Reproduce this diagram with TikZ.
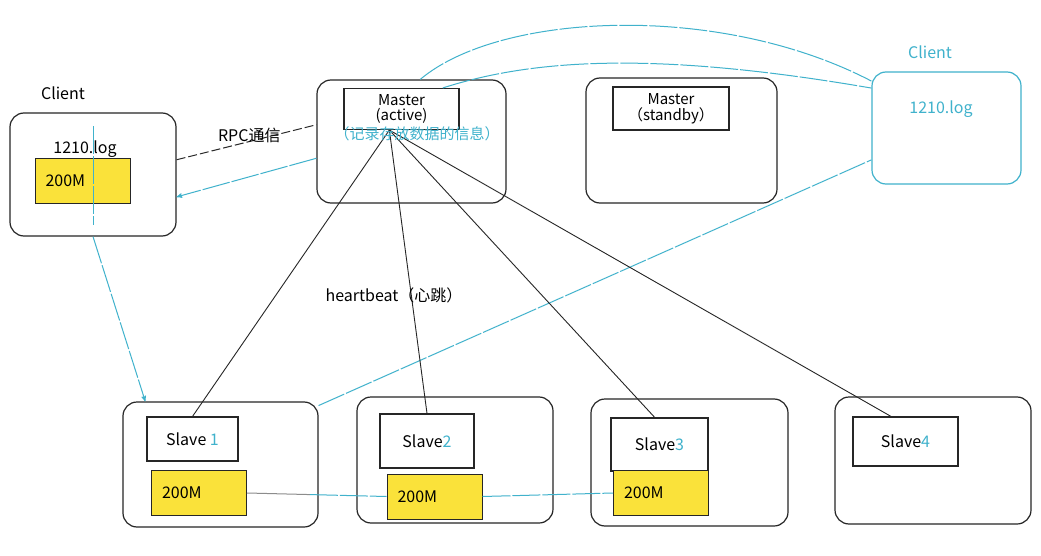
\documentclass[tikz,border=0pt]{standalone}
\usepackage{fontspec}
\setmainfont{Noto Sans CJK SC}
\usetikzlibrary{arrows,calc}
\definecolor{penblue}{RGB}{64,178,204}
\definecolor{memyellow}{RGB}{250,226,58}

\begin{document}
\begin{tikzpicture}[x=1pt,y=-1pt,>=stealth',
  font=\fontsize{16}{17}\selectfont,
  host/.style={draw=black!85,line width=1.2pt,rounded corners=14pt,inner sep=0pt},
  proc/.style={draw=black!85,line width=1.1pt,inner sep=0pt,align=center},
  mem/.style={draw=black!85,fill=memyellow,line width=1pt,inner sep=0pt,
    minimum width=95,minimum height=45,text width=74pt,align=left},
  pen/.style={draw=penblue,line width=1pt,dash pattern=on 28pt off 2pt},
  rpc/.style={draw=black!85,line width=1pt,dash pattern=on 9pt off 3pt},
  beat/.style={draw=black!85,line width=0.9pt}]
\fill[white] (0,0) rectangle (1041,556);
\useasboundingbox (0,0) rectangle (1041,556);

\node[host,minimum width=166,minimum height=123] (clientL) at (93,174.5) {};
\node (clientLname) at (63,93) {Client};
\node (logL) at (85,149) {1210.log};
\node[mem] (memL) at (82.5,181) {200M};

\node[host,minimum width=189,minimum height=123] (masterA) at (411.5,141.5) {};
\node[proc,minimum width=115,minimum height=41,font=\fontsize{15}{15}\selectfont] (masterAin) at (401.5,109) {Master\\(active)};

\node[host,minimum width=191,minimum height=125] (masterS) at (681.5,140.5) {};
\node[proc,minimum width=116,minimum height=43,font=\fontsize{15}{16}\selectfont] (masterSin) at (671,108.5) {Master\\（standby）};

\node[host,draw=penblue,minimum width=149,minimum height=112] (clientR) at (946.5,128) {};
\node[text=penblue] (clientRname) at (930,52) {Client};
\node[text=penblue] (logR) at (941,109) {1210.log};

\node[host,minimum width=195,minimum height=125] (s1) at (220.5,464.5) {};
\node[host,minimum width=196,minimum height=126] (s2) at (455,460) {};
\node[host,minimum width=197,minimum height=127] (s3) at (689.5,462.5) {};
\node[host,minimum width=196,minimum height=127] (s4) at (933,460.5) {};
\node[proc,minimum width=91,minimum height=44] (s1in) at (192.5,439) {Slave {\color{penblue}1}};
\node[proc,minimum width=94,minimum height=54] (s2in) at (427,441) {Slave{\color{penblue}2}};
\node[proc,minimum width=97,minimum height=53] (s3in) at (659.5,444.5) {Slave{\color{penblue}3}};
\node[proc,minimum width=105,minimum height=49] (s4in) at (905.5,441.5) {Slave{\color{penblue}4}};
\node[mem] (y1) at (199,493) {200M};
\node[mem] (y2) at (434.5,496.5) {200M};
\node[mem] (y3) at (661,493) {200M};

\draw[pen] ($(clientL.north)+(0,14)$) -- ($(clientL.south)+(0,-12)$);
\draw[rpc] (clientL.10) -- node[above=-5pt,pos=0.52] (rpclabel) {RPC通信} (masterA.170);
\draw[pen,->] (masterA.190) -- (clientL.-15);
\draw[pen,->] (clientL.south) -- (s1.140);
\draw[pen] (masterA.82) .. controls (500,12) and (720,2) .. (clientR.148);
\draw[pen] (masterAin.27) .. controls (530,60) and (650,50) .. (clientR.152);
\draw[pen] (s1.31) -- (clientR.203);

\draw[beat] (masterAin.240) -- (s1in.north);
\draw[beat] (masterAin.240) -- (s2in.north);
\draw[beat] (masterAin.240) -- (s3in.100);
\draw[beat] (masterAin.240) -- (s4in.120);
\node[text=penblue,font=\fontsize{15}{16}\selectfont] (noteA) at (417,134) {（记录存放数据的信息）};
\node (beatlabel) at (394,295) {heartbeat（心跳）};

\draw[black!45,line width=1pt] (y1.east) -- ($(y1.east)!0.45!(y2.west)$) coordinate (midA);
\draw[pen] (midA) -- (y2.west);
\draw[pen] (y2.east) -- (y3.west);
\end{tikzpicture}
\end{document}
